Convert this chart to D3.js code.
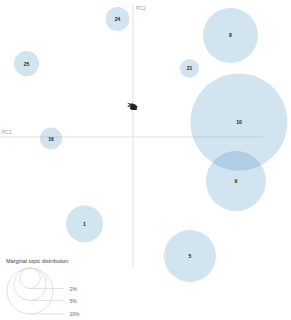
<!DOCTYPE html>
<html>
<head>
<meta charset="utf-8">
<script src="https://cdnjs.cloudflare.com/ajax/libs/d3/7.8.5/d3.min.js"></script>
<style>
  html, body { margin: 0; padding: 0; background: #fff; }
  svg { display: block; font-family: "Liberation Sans", Arial, sans-serif; }
</style>
</head>
<body>
<svg id="chart" width="291" height="320"></svg>
<script>
(function() {
    'use strict';

    // Topic data (PC coordinates, marginal share in %)
    const topics = ['10', '9', '8', '5', '1', '25', '24', '16', '21',
        '2', '3', '4', '6', '7', '11', '12', '13', '14', '15', '17', '18', '19', '20', '22', '23', '26'];
    const pc1 = [0.815, 0.792, 0.75, 0.438, -0.373, -0.819, -0.119, -0.631, 0.435,
        -0.005, 0.0, 0.01, -0.01, 0.005, 0.0, 0.01, -0.005, 0.008, 0.002, 0.012, -0.002, 0.006, 0.004, 0.009, -0.003, -0.02];
    const pc2 = [0.115, -0.338, 0.781, -0.915, -0.669, 0.565, 0.908, -0.012, 0.527,
        0.235, 0.228, 0.232, 0.24, 0.225, 0.23, 0.222, 0.236, 0.228, 0.22, 0.226, 0.238, 0.224, 0.232, 0.22, 0.234, 0.245];
    const freq = [44.5, 17.0, 14.3, 12.8, 6.5, 3.0, 2.7, 2.3, 1.7,
        0.05, 0.05, 0.05, 0.05, 0.05, 0.05, 0.05, 0.05, 0.05, 0.05, 0.05, 0.05, 0.05, 0.05, 0.05, 0.05, 0.05];

    const legendShares = [2, 5, 10];
    const legendLabels = ['2%', '5%', '10%'];

    const svg = d3.select('#chart');

    const x = d3.scaleLinear().domain([-1, 1]).range([3, 263]);
    const y = d3.scaleLinear().domain([-1, 1]).range([267, 7]);
    const r = d3.scaleSqrt().domain([0, 10]).range([0, 23]);

    const data = topics.map((t, i) => ({ topic: t, x: pc1[i], y: pc2[i], freq: freq[i] }));

    // Axes lines
    svg.append('line')
        .attr('x1', x(-1) - 3).attr('x2', x(1))
        .attr('y1', y(0)).attr('y2', y(0))
        .attr('stroke', '#e2e2e2').attr('stroke-width', 1);
    svg.append('line')
        .attr('x1', x(0)).attr('x2', x(0))
        .attr('y1', y(1) - 2).attr('y2', y(-1))
        .attr('stroke', '#e2e2e2').attr('stroke-width', 1);

    svg.append('text')
        .attr('x', 2).attr('y', y(0) - 3)
        .style('font-size', '5px').style('fill', '#999')
        .text('PC1');
    svg.append('text')
        .attr('x', x(0) + 3).attr('y', 10)
        .style('font-size', '5px').style('fill', '#999')
        .text('PC2');

    // Topic circles
    svg.selectAll('.topic')
        .data(data)
        .enter()
        .append('circle')
        .attr('class', 'topic')
        .attr('cx', d => x(d.x))
        .attr('cy', d => y(d.y))
        .attr('r', d => r(d.freq))
        .style('fill', '#1f77b4')
        .style('fill-opacity', 0.2)
        .style('stroke', 'none');

    // Topic labels
    svg.selectAll('.topic-label')
        .data(data)
        .enter()
        .append('text')
        .attr('class', 'topic-label')
        .attr('x', d => x(d.x))
        .attr('y', d => y(d.y) + 2)
        .attr('text-anchor', 'middle')
        .style('font-size', '5px')
        .style('font-weight', 'bold')
        .style('fill', '#222')
        .text(d => d.topic);

    // Circle size guide
    const top = 268;
    const rLarge = r(10);
    const cx = 7 + rLarge;
    const cx2 = cx + 1.5 * rLarge;

    svg.append('text')
        .attr('x', 6).attr('y', 263)
        .style('font-size', '5.5px').style('fill', '#444')
        .text('Marginal topic distribution');

    legendShares.forEach((s, i) => {
        const rs = r(s);
        svg.append('circle')
            .attr('cx', cx).attr('cy', top + rs).attr('r', rs)
            .style('fill', 'none')
            .style('stroke', '#ccc')
            .style('stroke-width', 0.6);
        svg.append('line')
            .attr('x1', cx).attr('x2', cx2)
            .attr('y1', top + 2 * rs).attr('y2', top + 2 * rs)
            .style('stroke', '#ccc')
            .style('stroke-width', 0.6);
        svg.append('text')
            .attr('x', cx2 + 5).attr('y', top + 2 * rs + 2)
            .style('font-size', '5px').style('fill', '#666')
            .text(legendLabels[i]);
    });
})();
</script>
</body>
</html>
